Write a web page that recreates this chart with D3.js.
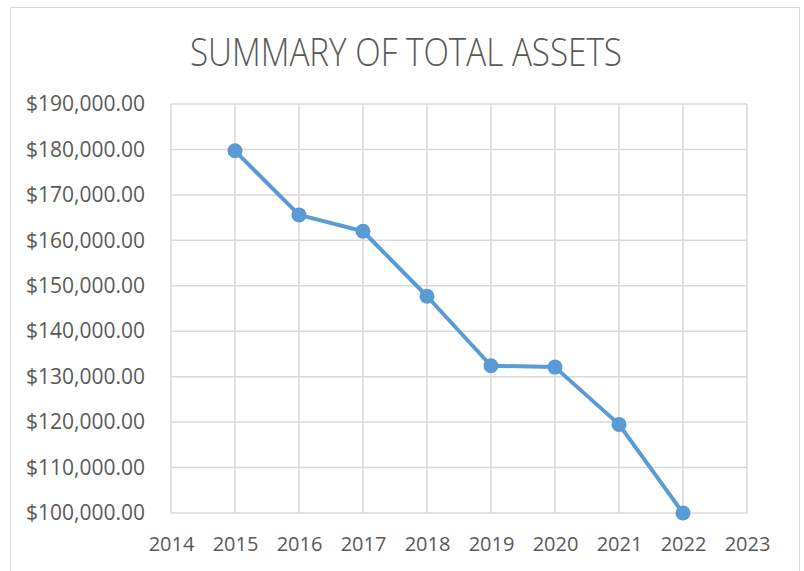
<html>
<head>
  <meta charset="utf-8">
  <title>Summary of Total Assets</title>
  <style>
    body {
      margin: 0;
      background: #fff;
      font-family: "Open Sans", sans-serif;
    }
  </style>
  <script src="https://d3js.org/d3.v7.min.js"></script>
</head>
<body>
  <div id="chart"></div>

  <script>
    // Data
    const years = [2015, 2016, 2017, 2018, 2019, 2020, 2021, 2022];
    const assets = [179700, 165600, 162000, 147700, 132400, 132100, 119500, 100000];
    const xTicks = [2014, 2015, 2016, 2017, 2018, 2019, 2020, 2021, 2022, 2023];
    const yTicks = [100000, 110000, 120000, 130000, 140000, 150000, 160000, 170000, 180000, 190000];

    const W = 804, H = 571;
    const margin = { top: 104, right: 57, bottom: 58, left: 171 };
    const width = W - margin.left - margin.right;
    const height = H - margin.top - margin.bottom;

    const x = d3.scaleLinear().domain([2014, 2023]).range([0, width]);
    const y = d3.scaleLinear().domain([100000, 190000]).range([height, 0]);

    const svgRoot = d3.select("#chart")
      .append("svg")
      .attr("width", W)
      .attr("height", H);

    // Chart area border
    svgRoot.append("rect")
      .attr("x", 10.5)
      .attr("y", 7.5)
      .attr("width", 789)
      .attr("height", 580)
      .attr("fill", "#fff")
      .attr("stroke", "#d9d9d9")
      .attr("stroke-width", 1);

    // Title (narrow Calibri-like look, squeezed to the reference width)
    svgRoot.append("text")
      .attr("x", 190)
      .attr("y", 66)
      .attr("fill", "#595959")
      .attr("font-size", 39)
      .attr("font-weight", 300)
      .attr("textLength", 432)
      .attr("lengthAdjust", "spacingAndGlyphs")
      .text("SUMMARY OF TOTAL ASSETS");

    const svg = svgRoot.append("g")
      .attr("transform", `translate(${margin.left},${margin.top})`);

    // Gridlines
    svg.append("g")
      .selectAll("line")
      .data(yTicks)
      .join("line")
      .attr("x1", 0)
      .attr("x2", width)
      .attr("y1", d => y(d))
      .attr("y2", d => y(d))
      .attr("stroke", "#d9d9d9")
      .attr("stroke-width", 1.5);

    svg.append("g")
      .selectAll("line")
      .data(xTicks)
      .join("line")
      .attr("x1", d => x(d))
      .attr("x2", d => x(d))
      .attr("y1", 0)
      .attr("y2", height)
      .attr("stroke", "#d9d9d9")
      .attr("stroke-width", 1.5);

    // Axes (labels only)
    const fmt = d => "$" + d3.format(",.2f")(d);

    const yAxis = svg.append("g")
      .call(d3.axisLeft(y).tickValues(yTicks).tickFormat(fmt).tickSize(0).tickPadding(26));
    yAxis.select(".domain").remove();
    yAxis.selectAll("text")
      .attr("fill", "#595959")
      .attr("font-size", 21)
      .attr("font-family", "'Open Sans', sans-serif");

    const xAxis = svg.append("g")
      .attr("transform", `translate(0,${height})`)
      .call(d3.axisBottom(x).tickValues(xTicks).tickFormat(d3.format("d")).tickSize(0).tickPadding(24));
    xAxis.select(".domain").remove();
    xAxis.selectAll("text")
      .attr("fill", "#595959")
      .attr("font-size", 20)
      .attr("font-family", "'Open Sans', sans-serif");

    // Line and markers
    const data = years.map((yr, i) => ({ year: yr, value: assets[i] }));
    const line = d3.line()
      .x(d => x(d.year))
      .y(d => y(d.value));

    svg.append("path")
      .datum(data)
      .attr("fill", "none")
      .attr("stroke", "#5b9bd5")
      .attr("stroke-width", 4)
      .attr("stroke-linejoin", "round")
      .attr("d", line);

    svg.append("g")
      .selectAll("circle")
      .data(data)
      .join("circle")
      .attr("cx", d => x(d.year))
      .attr("cy", d => y(d.value))
      .attr("r", 7.5)
      .attr("fill", "#5b9bd5");
  </script>
</body>
</html>
